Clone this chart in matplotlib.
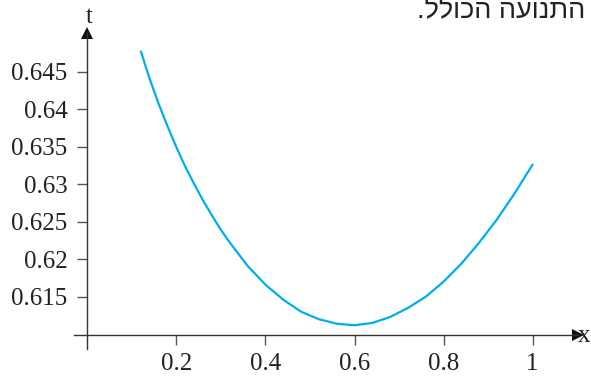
import matplotlib
matplotlib.use("Agg")
import matplotlib.pyplot as plt

# data
x_vals = [0.12, 0.14, 0.16, 0.18, 0.20, 0.22, 0.24, 0.26, 0.28, 0.30, 0.32,
          0.36, 0.40, 0.44, 0.48, 0.52, 0.56, 0.60, 0.64, 0.68, 0.72,
          0.76, 0.80, 0.84, 0.88, 0.92, 0.96, 1.00]
t_vals = [0.6477, 0.6440, 0.6407, 0.6377, 0.6349, 0.6323, 0.6300, 0.6278, 0.6258, 0.6239, 0.6222,
          0.6191, 0.6166, 0.6146, 0.6130, 0.6120, 0.6114, 0.6112, 0.6115, 0.6123, 0.6135,
          0.6150, 0.6170, 0.6194, 0.6222, 0.6253, 0.6288, 0.6326]
x_ticks = [0.2, 0.4, 0.6, 0.8, 1.0]
x_tick_labels = ["0.2", "0.4", "0.6", "0.8", "1"]
y_ticks = [0.615, 0.62, 0.625, 0.63, 0.635, 0.64, 0.645]
y_tick_labels = ["0.615", "0.62", "0.625", "0.63", "0.635", "0.64", "0.645"]
header_text = "זמן התנועה הכולל."

plt.rcParams["font.family"] = ["Liberation Serif", "DejaVu Serif"]

W, H = 591, 378
fig = plt.figure(figsize=(W / 100, H / 100), dpi=100)
ax = fig.add_axes([74 / W, (H - 349) / H, (578 - 74) / W, (349 - 33) / H])

xmin, xmax = -0.0303, 1.1022
ymin, ymax = 0.60803, 0.65016
x_axis_y = 0.60983
ax.set_xlim(xmin, xmax)
ax.set_ylim(ymin, ymax)

ax.plot(x_vals, t_vals, color="#00aeef", lw=1.6, solid_capstyle="round",
        solid_joinstyle="round")

axis_col = "#333333"
for s in ["top", "right"]:
    ax.spines[s].set_visible(False)
ax.spines["left"].set_position(("data", 0))
ax.spines["bottom"].set_position(("data", x_axis_y))
for s in ["left", "bottom"]:
    ax.spines[s].set_color(axis_col)
    ax.spines[s].set_linewidth(1.0)

# arrow heads
ax.plot([xmax], [x_axis_y], marker=">", ms=8, color="#111111", clip_on=False,
        markeredgewidth=0)
ax.plot([0], [ymax], marker="^", ms=8, color="#111111", clip_on=False,
        markeredgewidth=0)

ax.set_xticks(x_ticks)
ax.set_xticklabels(x_tick_labels, fontsize=18)
ax.set_yticks(y_ticks)
ax.set_yticklabels(y_tick_labels, fontsize=18)
ax.tick_params(axis="both", direction="out", length=7.5, width=1.0,
               color="#555555", labelcolor="#222222")
ax.tick_params(axis="x", pad=5)
ax.tick_params(axis="y", pad=7)

fig.text(89 / W, (H - 23) / H, "t", fontsize=18,
         ha="center", va="baseline", color="#222222")
fig.text(590 / W, (H - 336) / H, "x", fontsize=18,
         ha="right", va="center", color="#222222")

# Hebrew (right-to-left) header, reversed into visual order for rendering;
# like the reference, it runs off the right edge of the picture
fig.text(417 / W, (H - 18) / H, header_text[::-1], family=["Liberation Sans", "DejaVu Sans"],
         fontsize=19.5, ha="left", va="baseline", color="#222222")

fig.savefig("out.png", dpi=100)
